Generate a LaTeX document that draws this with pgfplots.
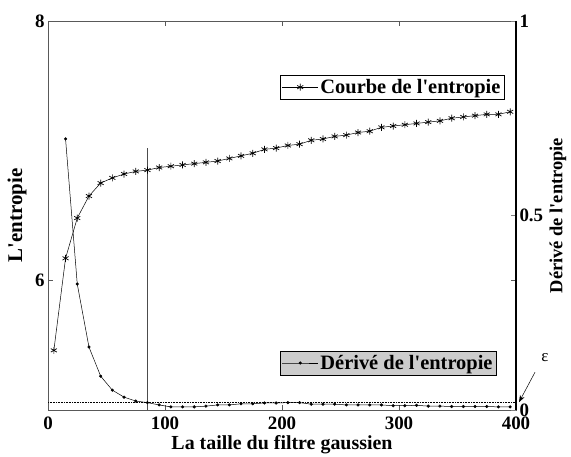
\documentclass[border=0pt]{standalone}
\usepackage{pgfplots}
\pgfplotsset{compat=1.18}
\usepackage{fontspec}
\setmainfont{Liberation Serif}
\usetikzlibrary{arrows.meta}

\pgfplotsset{
  common/.style={
    scale only axis, width=468bp, height=389bp,
    xmin=0, xmax=400,
    font=\fontsize{19}{21}\selectfont\bfseries,
    tick label style={font=\fontsize{19}{21}\selectfont\bfseries},
    /pgf/number format/assume math mode=true,
    tick align=inside,
    major tick length=5bp,
    legend cell align=left,
    legend style={font=\fontsize{20.5}{22}\selectfont\bfseries, draw=black, line width=0.6bp,
      inner xsep=2bp, inner ysep=2bp},
    legend image code/.code={\draw[mark repeat=2, mark phase=2, #1] plot coordinates {(0bp,0bp) (18bp,0bp) (36bp,0bp)};},
  },
}

\begin{document}
\begin{tikzpicture}
\begin{axis}[common,
  ymin=5, ymax=8,
  ytick={6,8}, xtick={0,100,200,300,400},
  axis line style={gray!70!black, line width=0.6bp},
  tick style={gray!70!black},
  xticklabel style={yshift=-3bp},
  xlabel={La taille du filtre gaussien},
  ylabel={L\textquotesingle entropie},
  every axis x label/.style={at={(rel axis cs:0.5,0)}, anchor=center, yshift=-35bp, font=\fontsize{20}{22}\selectfont\bfseries},
  every axis y label/.style={at={(rel axis cs:0,0.5)}, anchor=center, rotate=90, yshift=31bp, font=\fontsize{21}{23}\selectfont\bfseries},
  legend style={at={(rel axis cs:0.976,0.861)}, anchor=north east, fill=white},
]
\addplot[black, line width=0.5bp, mark=asterisk, mark size=3.5bp, mark options={line width=0.7bp}] coordinates {
(5,5.46) (15,6.17) (25,6.48) (35,6.65) (45,6.75) (55,6.79) (65,6.82) (75,6.84)
(85,6.85) (95,6.87) (105,6.88) (115,6.89) (125,6.90) (135,6.91) (145,6.92) (155,6.94)
(165,6.96) (175,6.98) (185,7.01) (195,7.02) (205,7.04) (215,7.05) (225,7.08) (235,7.09)
(245,7.11) (255,7.12) (265,7.14) (275,7.15) (285,7.18) (295,7.19) (305,7.20) (315,7.21)
(325,7.22) (335,7.23) (345,7.25) (355,7.26) (365,7.27) (375,7.28) (385,7.28) (395,7.30)
};
\addlegendentry{Courbe de l\textquotesingle entropie}
\addplot[gray!60!black, line width=0.6bp, forget plot] coordinates {(85,5) (85,7.02)};
\coordinate (bl) at (rel axis cs:0,0);
\coordinate (tr) at (rel axis cs:1,1);
\end{axis}
\begin{axis}[common,
  ymin=0, ymax=1,
  axis x line=none,
  axis y line*=right,
  ytick={0,0.5,1},
  yticklabels={0,0.5,1},
  y axis line style={black, line width=1.2bp, -},
  ylabel={Dérivé de l\textquotesingle entropie},
  every axis y label/.style={at={(rel axis cs:1,0.5)}, anchor=center, rotate=90, yshift=-42bp, font=\fontsize{18.5}{20}\selectfont\bfseries},
  legend style={at={(rel axis cs:0.959,0.152)}, anchor=north east, fill=gray!40},
  clip=false,
]
\addplot[black, line width=0.5bp, mark=*, mark size=1.3bp] coordinates {
(15,0.697) (25,0.324) (35,0.162) (45,0.087) (55,0.051) (65,0.033) (75,0.023) (85,0.019)
(95,0.013) (105,0.008) (115,0.008) (125,0.008) (135,0.010) (145,0.013) (155,0.013) (165,0.016)
(175,0.016) (185,0.018) (195,0.018) (205,0.019) (215,0.019) (225,0.015) (235,0.015) (245,0.015)
(255,0.013) (265,0.013) (275,0.013) (285,0.013) (295,0.011) (305,0.011) (315,0.012) (325,0.010)
(335,0.010) (345,0.009) (355,0.009) (365,0.009) (375,0.009) (385,0.008) (395,0.008)
};
\addlegendentry{Dérivé de l\textquotesingle entropie}
\addplot[black, densely dotted, line width=0.6bp, forget plot] coordinates {(0,0.02) (400,0.02)};
\draw[-{Stealth[length=7bp,width=5bp]}, line width=0.5bp] ([xshift=19bp,yshift=30bp]axis cs:400,0.02) -- ([xshift=3bp]axis cs:400,0.02);
\node[font=\fontsize{17}{19}\selectfont\mdseries] at ([xshift=29bp,yshift=45bp]axis cs:400,0.02) {ε};
\end{axis}
\pgfresetboundingbox
\path ([shift={(-48bp,-47bp)}]bl) rectangle ([shift={(55bp,21bp)}]tr);
\end{tikzpicture}
\end{document}
